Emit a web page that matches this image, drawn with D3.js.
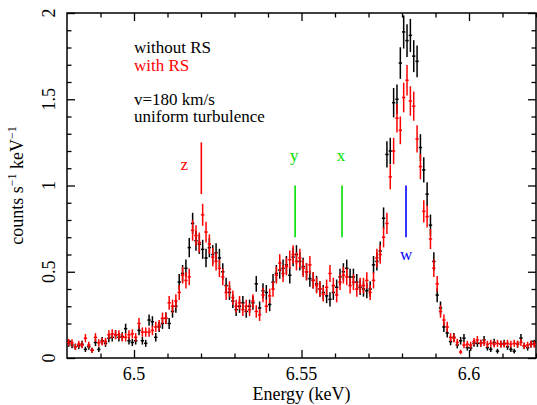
<!DOCTYPE html>
<html>
<head>
<meta charset="utf-8">
<script src="https://cdn.jsdelivr.net/npm/d3@7"></script>
<style>
  body { margin: 0; background: white; }
  svg text { font-family: "Liberation Serif", "DejaVu Serif", serif; }
</style>
</head>
<body>
<div class="chart"></div>
<script>
// bin centres (keV), 1 eV bins
const energy = [
  6.4805,6.4815,6.4825,6.4835,6.4845,6.4855,6.4865,6.4875,6.4885,6.4895,
  6.4905,6.4915,6.4925,6.4935,6.4945,6.4955,6.4965,6.4975,6.4985,6.4995,
  6.5005,6.5015,6.5025,6.5035,6.5045,6.5055,6.5065,6.5075,6.5085,6.5095,
  6.5105,6.5115,6.5125,6.5135,6.5145,6.5155,6.5165,6.5175,6.5185,6.5195,
  6.5205,6.5215,6.5225,6.5235,6.5245,6.5255,6.5265,6.5275,6.5285,6.5295,
  6.5305,6.5315,6.5325,6.5335,6.5345,6.5355,6.5365,6.5375,6.5385,6.5395,
  6.5405,6.5415,6.5425,6.5435,6.5445,6.5455,6.5465,6.5475,6.5485,6.5495,
  6.5505,6.5515,6.5525,6.5535,6.5545,6.5555,6.5565,6.5575,6.5585,6.5595,
  6.5605,6.5615,6.5625,6.5635,6.5645,6.5655,6.5665,6.5675,6.5685,6.5695,
  6.5705,6.5715,6.5725,6.5735,6.5745,6.5755,6.5765,6.5775,6.5785,6.5795,
  6.5805,6.5815,6.5825,6.5835,6.5845,6.5855,6.5865,6.5875,6.5885,6.5895,
  6.5905,6.5915,6.5925,6.5935,6.5945,6.5955,6.5965,6.5975,6.5985,6.5995,
  6.6005,6.6015,6.6025,6.6035,6.6045,6.6055,6.6065,6.6075,6.6085,6.6095,
  6.6105,6.6115,6.6125,6.6135,6.6145,6.6155,6.6165,6.6175,6.6185,6.6195
]

// counts s^-1 keV^-1, without resonant scattering (black)
const withoutRS = [
  0.085,0.075,0.065,0.07,0.08,0.05,0.065,0.045,0.09,0.05,
  0.10,0.085,0.115,0.12,0.135,0.12,0.125,0.17,0.10,0.09,
  0.10,0.16,0.10,0.085,0.22,0.21,0.12,0.18,0.20,0.23,
  0.20,0.27,0.30,0.44,0.49,0.52,0.64,0.78,0.68,0.66,
  0.63,0.58,0.64,0.60,0.61,0.58,0.50,0.42,0.38,0.33,
  0.28,0.30,0.32,0.27,0.30,0.32,0.43,0.29,0.39,0.38,
  0.31,0.44,0.49,0.51,0.52,0.54,0.48,0.585,0.60,0.56,
  0.53,0.50,0.46,0.45,0.43,0.40,0.38,0.36,0.34,0.38,
  0.41,0.47,0.50,0.52,0.47,0.47,0.44,0.41,0.40,0.39,
  0.40,0.54,0.56,0.62,0.81,1.18,1.20,1.48,1.50,1.71,
  1.89,1.84,1.87,1.75,1.72,1.22,1.09,0.95,0.77,0.56,
  0.365,0.29,0.18,0.145,0.095,0.12,0.075,0.10,0.115,0.06,
  0.058,0.085,0.085,0.085,0.105,0.06,0.05,0.09,0.04,0.08,
  0.085,0.065,0.05,0.04,0.08,0.115,0.07,0.06,0.08,0.085
]

// with resonant scattering (red)
const withRS = [
  0.09,0.088,0.065,0.08,0.075,0.115,0.075,0.045,0.12,0.088,
  0.095,0.095,0.135,0.14,0.135,0.135,0.12,0.12,0.135,0.14,
  0.12,0.20,0.15,0.15,0.15,0.16,0.18,0.19,0.23,0.23,
  0.32,0.30,0.33,0.38,0.48,0.45,0.47,0.74,0.71,0.67,
  0.83,0.73,0.66,0.585,0.56,0.52,0.47,0.38,0.40,0.35,
  0.30,0.32,0.28,0.30,0.28,0.33,0.27,0.25,0.365,0.30,
  0.36,0.40,0.48,0.55,0.49,0.53,0.57,0.60,0.56,0.58,
  0.52,0.50,0.54,0.45,0.42,0.40,0.37,0.41,0.49,0.42,
  0.365,0.44,0.48,0.47,0.42,0.44,0.40,0.42,0.42,0.45,
  0.38,0.45,0.58,0.60,0.70,0.78,1.05,1.20,1.39,1.32,
  1.51,1.61,1.49,1.46,1.27,1.11,0.85,0.82,0.69,0.52,
  0.43,0.27,0.22,0.18,0.12,0.115,0.09,0.035,0.075,0.08,
  0.075,0.095,0.105,0.085,0.09,0.08,0.085,0.08,0.085,0.08,
  0.08,0.085,0.08,0.085,0.08,0.09,0.07,0.075,0.08,0.08
]

const binHalf = 0.0005

// line identifications
const lineNames = ["z", "y", "x", "w"]
const lineEnergy = [6.5201, 6.5481, 6.5621, 6.5812]
const lineColor = ["#ff0000", "#00e000", "#00e000", "#0000ff"]
const lineTop = [1.25, 1.0, 1.0, 1.0]
const lineBottom = [0.95, 0.7, 0.7, 0.7]

const xTicksMajor = [6.5, 6.55, 6.6]
const yTicksMajor = [0, 0.5, 1, 1.5, 2]

const serif = "'Liberation Serif', 'DejaVu Serif', serif"

const margin = {top: 13, right: 1, bottom: 47, left: 67}
const width = 537 - margin.left - margin.right
const height = 405 - margin.top - margin.bottom

const svg = d3.select(".chart").append("svg")
    .attr("width", 537)
    .attr("height", 405)
    .attr("font-family", serif)
  .append("g")
    .attr("transform", `translate(${margin.left},${margin.top})`)

const x = d3.scaleLinear().domain([6.48, 6.62]).range([0, width])
const y = d3.scaleLinear().domain([0, 2]).range([height, 0])

const xMinor = d3.range(6.49, 6.6201, 0.01).filter(v => !xTicksMajor.some(m => Math.abs(m - v) < 1e-6))
const yMinor = d3.range(0.1, 2, 0.1).filter(v => !yTicksMajor.some(m => Math.abs(m - v) < 1e-6))

// ticks inside on all four sides
function ticks(axis, values, size) {
  return axis.tickValues(values).tickSize(-size).tickFormat("")
}
const frame = svg.append("g").attr("class", "frame")
frame.append("g").attr("transform", `translate(0,${height})`).call(ticks(d3.axisBottom(x), xTicksMajor, 8))
frame.append("g").attr("transform", `translate(0,${height})`).call(ticks(d3.axisBottom(x), xMinor, 4.5))
frame.append("g").call(ticks(d3.axisTop(x), xTicksMajor, 8))
frame.append("g").call(ticks(d3.axisTop(x), xMinor, 4.5))
frame.append("g").call(ticks(d3.axisLeft(y), yTicksMajor, 8))
frame.append("g").call(ticks(d3.axisLeft(y), yMinor, 4.5))
frame.append("g").attr("transform", `translate(${width},0)`).call(ticks(d3.axisRight(y), yTicksMajor, 8))
frame.append("g").attr("transform", `translate(${width},0)`).call(ticks(d3.axisRight(y), yMinor, 4.5))
frame.selectAll(".domain").remove()
frame.selectAll(".tick line").attr("stroke", "black").attr("stroke-width", 1.3)
frame.append("rect")
    .attr("width", width).attr("height", height)
    .attr("fill", "none").attr("stroke", "black").attr("stroke-width", 1.5)

// tick labels
svg.selectAll(".xlab")
  .data(xTicksMajor)
  .join("text")
    .attr("class", "xlab")
    .attr("x", d => x(d))
    .attr("y", height + 22)
    .attr("text-anchor", "middle")
    .style("font-family", serif)
    .style("font-size", "18px")
    .text(d => d)

svg.selectAll(".ylab")
  .data(yTicksMajor)
  .join("text")
    .attr("class", "ylab")
    .attr("transform", d => `translate(-12,${y(d)}) rotate(-90)`)
    .attr("text-anchor", "middle")
    .style("font-family", serif)
    .style("font-size", "18px")
    .text(d => d)

svg.append("text")
    .attr("x", width / 2)
    .attr("y", height + 42)
    .attr("text-anchor", "middle")
    .style("font-family", serif)
    .style("font-size", "18px")
    .text("Energy (keV)")

const ytitle = svg.append("text")
    .attr("transform", `translate(-44,${height / 2}) rotate(-90)`)
    .attr("text-anchor", "middle")
    .style("font-family", serif)
    .style("font-size", "18px")
ytitle.append("tspan").text("counts s")
ytitle.append("tspan").attr("dy", -7).style("font-size", "12px").text("\u22121")
ytitle.append("tspan").attr("dy", 7).text(" keV")
ytitle.append("tspan").attr("dy", -7).style("font-size", "12px").text("\u22121")

// data with error bars
function drawSeries(values, color) {
  const data = energy.map((e, i) => ({e, v: values[i], err: 0.07 * Math.sqrt(values[i])}))
  const g = svg.append("g").attr("stroke", color).attr("stroke-width", 1.5)
  g.selectAll(".ey")
    .data(data)
    .join("line")
      .attr("x1", d => x(d.e)).attr("x2", d => x(d.e))
      .attr("y1", d => y(d.v - d.err)).attr("y2", d => y(d.v + d.err))
  g.selectAll(".ex")
    .data(data)
    .join("line")
      .attr("x1", d => x(d.e - binHalf)).attr("x2", d => x(d.e + binHalf))
      .attr("y1", d => y(d.v)).attr("y2", d => y(d.v))
}
drawSeries(withoutRS, "black")
drawSeries(withRS, "#ff0000")

// line markers
const lines = lineNames.map((n, i) => ({n, e: lineEnergy[i], c: lineColor[i], top: lineTop[i], bot: lineBottom[i]}))
svg.selectAll(".mark")
  .data(lines)
  .join("line")
    .attr("class", "mark")
    .attr("x1", d => x(d.e)).attr("x2", d => x(d.e))
    .attr("y1", d => y(d.top)).attr("y2", d => y(d.bot))
    .attr("stroke", d => d.c)
    .attr("stroke-width", 1.6)

const labelPos = {
  z: {dx: -17, v: 1.09},
  y: {dx: -1, v: 1.14},
  x: {dx: -1, v: 1.14},
  w: {dx: 0, v: 0.57}
}
svg.selectAll(".mlab")
  .data(lines)
  .join("text")
    .attr("class", "mlab")
    .attr("x", d => x(d.e) + labelPos[d.n].dx)
    .attr("y", d => y(labelPos[d.n].v))
    .attr("text-anchor", "middle")
    .attr("fill", d => d.c)
    .style("font-family", serif)
    .style("font-size", "17px")
    .text(d => d.n)

// legend / annotation
const notes = [
  {t: "without RS", c: "black", y: 40},
  {t: "with RS", c: "#ff0000", y: 57.5},
  {t: "v=180 km/s", c: "black", y: 91.5},
  {t: "uniform turbulence", c: "black", y: 109}
]
svg.selectAll(".note")
  .data(notes)
  .join("text")
    .attr("class", "note")
    .attr("x", 67)
    .attr("y", d => d.y)
    .attr("fill", d => d.c)
    .style("font-family", serif)
    .style("font-size", "17px")
    .text(d => d.t)
</script>
</body>
</html>
